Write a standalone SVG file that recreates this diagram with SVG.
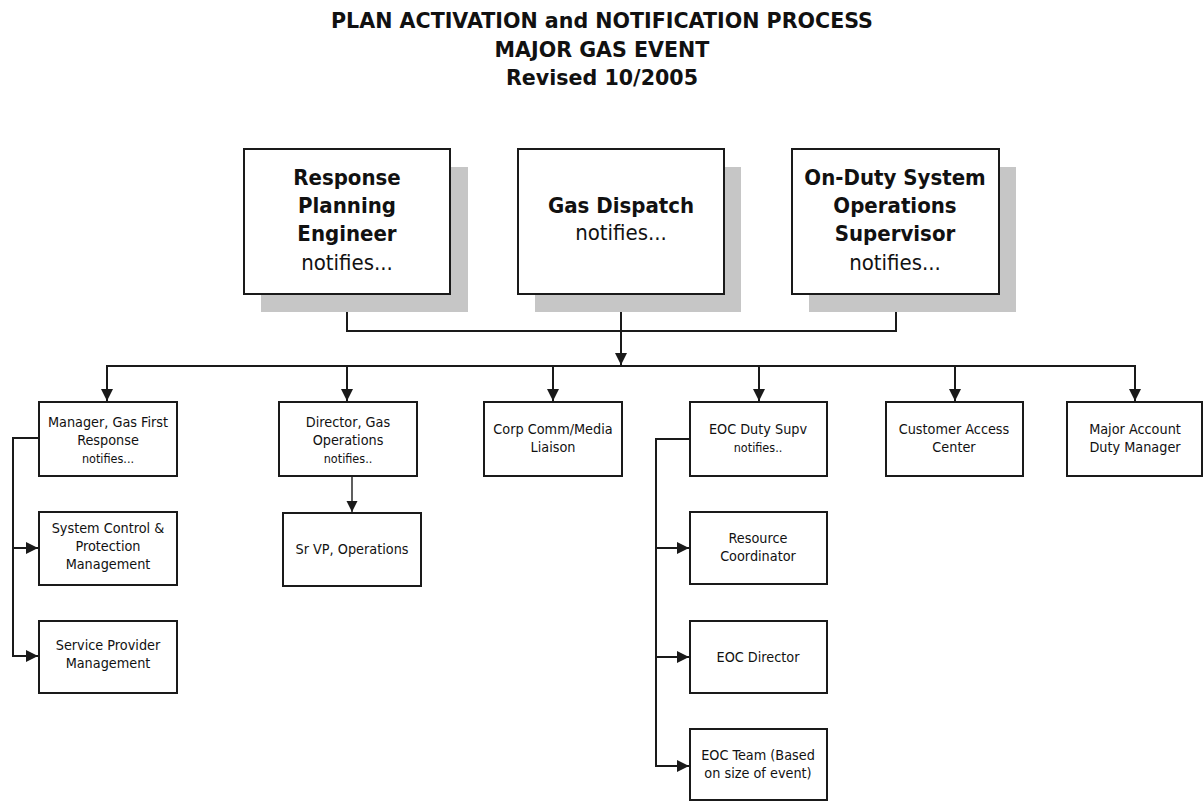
<svg xmlns="http://www.w3.org/2000/svg" width="1204" height="802" viewBox="0 0 1204 802">
<style>
text{font-family:"DejaVu Sans Condensed","DejaVu Sans",sans-serif;font-stretch:condensed;fill:#111;text-anchor:middle}
.t{font-family:"DejaVu Sans",sans-serif;font-stretch:normal;font-weight:bold;font-size:20.6px}
.big{font-weight:bold;font-size:22px}
.bn{font-size:22px}
.s{font-size:14.3px}
.sn{font-size:12.5px}
.box{fill:#fff;stroke:#1a1a1a;stroke-width:2}
.sh{fill:#c6c6c6}
.ln{fill:none;stroke:#1a1a1a;stroke-width:2}
</style>
<defs>
<marker id="ah" viewBox="0 0 10 10" refX="10" refY="5" markerWidth="6" markerHeight="6" markerUnits="strokeWidth" orient="auto">
<path d="M0,0 L10,5 L0,10 z" fill="#1a1a1a"/>
</marker>
<marker id="ah2" viewBox="0 0 10 10" refX="10" refY="5" markerWidth="8" markerHeight="8" markerUnits="strokeWidth" orient="auto">
<path d="M0,0 L10,5 L0,10 z" fill="#1a1a1a"/>
</marker>
</defs>
<rect width="1204" height="802" fill="#fff"/>
<g id="title">
<text class="t" x="602" y="28">PLAN ACTIVATION and NOTIFICATION PROCESS</text>
<text class="t" x="602" y="57">MAJOR GAS EVENT</text>
<text class="t" x="602" y="85">Revised 10/2005</text>
</g>
<g id="connectors">
<polyline class="ln" points="347,294 347,331 896,331 896,294"/>
<line class="ln" x1="621" y1="294" x2="621" y2="365" marker-end="url(#ah)"/>
<line class="ln" x1="106" y1="366" x2="1136" y2="366"/>
<line class="ln" x1="107" y1="366" x2="107" y2="401" marker-end="url(#ah)"/>
<line class="ln" x1="347" y1="366" x2="347" y2="401" marker-end="url(#ah)"/>
<line class="ln" x1="553" y1="366" x2="553" y2="401" marker-end="url(#ah)"/>
<line class="ln" x1="759" y1="366" x2="759" y2="401" marker-end="url(#ah)"/>
<line class="ln" x1="955" y1="366" x2="955" y2="401" marker-end="url(#ah)"/>
<line class="ln" x1="1135" y1="366" x2="1135" y2="401" marker-end="url(#ah)"/>
<polyline class="ln" points="39,438 13,438 13,656 38,656" marker-end="url(#ah)"/>
<line class="ln" x1="13" y1="548" x2="38" y2="548" marker-end="url(#ah)"/>
<line class="ln" style="stroke-width:1.4" x1="352" y1="476" x2="352" y2="512" marker-end="url(#ah2)"/>
<polyline class="ln" points="690,439 656,439 656,766 689,766" marker-end="url(#ah)"/>
<line class="ln" x1="656" y1="548" x2="689" y2="548" marker-end="url(#ah)"/>
<line class="ln" x1="656" y1="657" x2="689" y2="657" marker-end="url(#ah)"/>
</g>
<g id="n-rpe">
<rect class="sh" x="261" y="167" width="207" height="145"/>
<rect class="box" x="244" y="149" width="206" height="145"/>
<text class="big" x="347" y="185">Response</text>
<text class="big" x="347" y="213">Planning</text>
<text class="big" x="347" y="241">Engineer</text>
<text class="bn" x="347" y="270">notifies...</text>
</g>
<g id="n-gd">
<rect class="sh" x="535" y="167" width="206" height="145"/>
<rect class="box" x="518" y="149" width="206" height="145"/>
<text class="big" x="621" y="213">Gas Dispatch</text>
<text class="bn" x="621" y="240">notifies...</text>
</g>
<g id="n-odso">
<rect class="sh" x="809" y="167" width="207" height="145"/>
<rect class="box" x="792" y="149" width="207" height="145"/>
<text class="big" x="895" y="185">On-Duty System</text>
<text class="big" x="895" y="213">Operations</text>
<text class="big" x="895" y="241">Supervisor</text>
<text class="bn" x="895" y="270">notifies...</text>
</g>
<g id="n-mgr">
<rect class="box" x="39" y="402" width="138" height="74"/>
<text class="s" x="108" y="427">Manager, Gas First</text>
<text class="s" x="108" y="445">Response</text>
<text class="sn" x="108" y="463">notifies...</text>
</g>
<g id="n-scp">
<rect class="box" x="39" y="512" width="138" height="73"/>
<text class="s" x="108" y="533">System Control &amp;</text>
<text class="s" x="108" y="551">Protection</text>
<text class="s" x="108" y="569">Management</text>
</g>
<g id="n-spm">
<rect class="box" x="39" y="621" width="138" height="72"/>
<text class="s" x="108" y="650">Service Provider</text>
<text class="s" x="108" y="668">Management</text>
</g>
<g id="n-dir">
<rect class="box" x="279" y="402" width="138" height="74"/>
<text class="s" x="348" y="427">Director, Gas</text>
<text class="s" x="348" y="445">Operations</text>
<text class="sn" x="348" y="463">notifies..</text>
</g>
<g id="n-srvp">
<rect class="box" x="283" y="513" width="138" height="73"/>
<text class="s" x="352" y="554">Sr VP, Operations</text>
</g>
<g id="n-corp">
<rect class="box" x="484" y="402" width="138" height="74"/>
<text class="s" x="553" y="434">Corp Comm/Media</text>
<text class="s" x="553" y="452">Liaison</text>
</g>
<g id="n-eoc">
<rect class="box" x="690" y="402" width="137" height="74"/>
<text class="s" x="758" y="434">EOC Duty Supv</text>
<text class="sn" x="758" y="452">notifies..</text>
</g>
<g id="n-rc">
<rect class="box" x="690" y="512" width="137" height="72"/>
<text class="s" x="758" y="543">Resource</text>
<text class="s" x="758" y="561">Coordinator</text>
</g>
<g id="n-eocd">
<rect class="box" x="690" y="621" width="137" height="72"/>
<text class="s" x="758" y="662">EOC Director</text>
</g>
<g id="n-eoct">
<rect class="box" x="690" y="729" width="137" height="71"/>
<text class="s" x="758" y="760">EOC Team (Based</text>
<text class="s" x="758" y="778">on size of event)</text>
</g>
<g id="n-cac">
<rect class="box" x="886" y="402" width="137" height="74"/>
<text class="s" x="954" y="434">Customer Access</text>
<text class="s" x="954" y="452">Center</text>
</g>
<g id="n-mad">
<rect class="box" x="1067" y="402" width="135" height="74"/>
<text class="s" x="1135" y="434">Major Account</text>
<text class="s" x="1135" y="452">Duty Manager</text>
</g>
</svg>
